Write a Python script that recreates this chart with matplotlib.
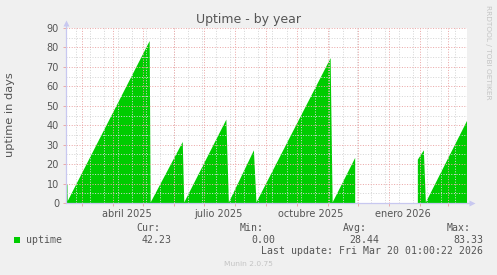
import matplotlib
matplotlib.use('Agg')
import matplotlib.pyplot as plt
import matplotlib.patches as mpatches
import numpy as np
import pandas as pd

# ---------------- data ----------------
dates = ["2025-02-13 01:00", "2025-02-14 12:00", "2025-02-14 18:00",
         "2025-05-07 12:00", "2025-05-08 12:00",
         "2025-06-09 12:00", "2025-06-11 00:00",
         "2025-07-23 00:00", "2025-07-25 12:00",
         "2025-08-19 12:00", "2025-08-22 00:00",
         "2025-11-04 00:00", "2025-11-06 00:00",
         "2025-11-28 12:00", "2025-12-01 00:00",
         "2026-01-30 00:00", "2026-02-05 00:00", "2026-02-07 00:00",
         "2026-03-20 01:00"]
uptime = [9.5, 9.5, 1.0,
          83.3, 0.3,
          31.4, 0.3,
          42.9, 0.3,
          27.1, 0.3,
          74.5, 0.3,
          23.2, np.nan,
          22.3, 27.1, 0.3,
          42.2]

x_start = "2025-02-13 01:00"
x_end = "2026-03-20 01:00"
label_dates = ["2025-04-15", "2025-07-15", "2025-10-15", "2026-01-15"]
label_texts = ["abril 2025", "julio 2025", "octubre 2025", "enero 2026"]
y_ticks = [0, 10, 20, 30, 40, 50, 60, 70, 80, 90]

legend_name = "uptime"
stat_heads = ["Cur:", "Min:", "Avg:", "Max:"]
stat_vals = ["42.23", "0.00", "28.44", "83.33"]
last_update = "Last update: Fri Mar 20 01:00:22 2026"
title = "Uptime - by year"
ylabel = "uptime in days"

# ---------------- figure ----------------
W, H = 497, 275
BG = '#f0f0f0'
TXT = '#555555'
GREEN = '#00cc00'
MGRID = (0.92, 0.66, 0.66)
GRID = (0.84, 0.84, 0.84)
AXIS = '#c8c8f0'

fig = plt.figure(figsize=(W / 100, H / 100), dpi=100, facecolor=BG)


def fx(x):
    return x / W


def fy(y):
    return 1 - y / H


ax = fig.add_axes([fx(66), fy(203), fx(467) - fx(66), fy(28) - fy(203)])
ax.set_facecolor('white')

t = pd.to_datetime(dates)
ax.fill_between(t, uptime, 0, color=GREEN, lw=0, zorder=2)

x0 = pd.Timestamp(x_start)
x1 = pd.Timestamp(x_end)
ax.set_xlim(x0, x1)
ax.set_ylim(0, 90)

dot = (0, (1, 1.6))
lw = 0.72
gkw = dict(lw=lw, ls=dot, zorder=3)
# minor grid: every two weeks, every 5 units
for d in pd.date_range("2025-02-23", x_end, freq="14D"):
    ax.axvline(d, color=GRID, **gkw)
for v in range(5, 90, 10):
    ax.axhline(v, color=GRID, **gkw)
# major grid: month starts, every 10 units
month_starts = pd.date_range("2025-03-01", x_end, freq="MS")
for d in month_starts:
    ax.axvline(d, color=MGRID, **gkw)
for v in y_ticks[1:]:
    ax.axhline(v, color=MGRID, **gkw)

for s in ['top', 'right']:
    ax.spines[s].set_visible(False)
for s in ['left', 'bottom']:
    ax.spines[s].set_color(AXIS)
    ax.spines[s].set_linewidth(0.9)
    ax.spines[s].set_zorder(4)

# axis arrows
ax.plot([0, 0], [1.0, 1.02], transform=ax.transAxes, color=AXIS, lw=0.9, clip_on=False)
ax.plot([0], [1.03], marker='^', ms=4, color=AXIS, transform=ax.transAxes, clip_on=False, mec='none')
ax.plot([1.0, 1.008], [0, 0], transform=ax.transAxes, color=AXIS, lw=0.9, clip_on=False)
ax.plot([1.013], [0], marker='>', ms=4, color=AXIS, transform=ax.transAxes, clip_on=False, mec='none')

ax.set_yticks(y_ticks)
ax.set_yticklabels([str(v) for v in y_ticks])
ax.tick_params(axis='y', length=2, width=0.7, color=MGRID, pad=3, labelsize=7, labelcolor=TXT)

ax.set_xticks(pd.to_datetime(label_dates))
ax.set_xticklabels(label_texts)
ax.set_xticks(month_starts, minor=True)
ax.tick_params(axis='x', which='major', length=0, pad=4, labelsize=7, labelcolor=TXT)
ax.tick_params(axis='x', which='minor', length=2, width=0.7, color=MGRID)

# texts
fig.text(fx(249), fy(19), title, ha='center', va='center', fontsize=9, color=TXT)
fig.text(fx(10), fy(115), ylabel, ha='center', va='center', rotation=90, fontsize=8.2, color=TXT)
fig.text(fx(488), fy(5), "RRDTOOL / TOBI OETIKER", ha='center', va='top', rotation=270,
         fontsize=5.3, color='#c4c4c4')

mono = 'DejaVu Sans Mono'
fs = 7.1
heads_x = [136, 239.5, 343, 447]
vals_x = [171.5, 275, 379, 483]
for hx, h in zip(heads_x, stat_heads):
    fig.text(fx(hx), fy(228), h, ha='left', va='center', family=mono, fontsize=fs, color=TXT)
for vx, v in zip(vals_x, stat_vals):
    fig.text(fx(vx), fy(240), v, ha='right', va='center', family=mono, fontsize=fs, color=TXT)
fig.text(fx(26), fy(240), legend_name, ha='left', va='center', family=mono, fontsize=fs, color=TXT)
fig.patches.append(mpatches.Rectangle((fx(14), fy(243)), fx(6), 6 / H, transform=fig.transFigure,
                                      facecolor=GREEN, edgecolor='none'))
fig.text(fx(483), fy(251.5), last_update, ha='right', va='center', family=mono, fontsize=fs, color=TXT)
fig.text(fx(248), fy(264.5), "Munin 2.0.75", ha='center', va='center', fontsize=5.4, color='#c4c4c4')

fig.savefig('out.png', dpi=100, facecolor=BG)
